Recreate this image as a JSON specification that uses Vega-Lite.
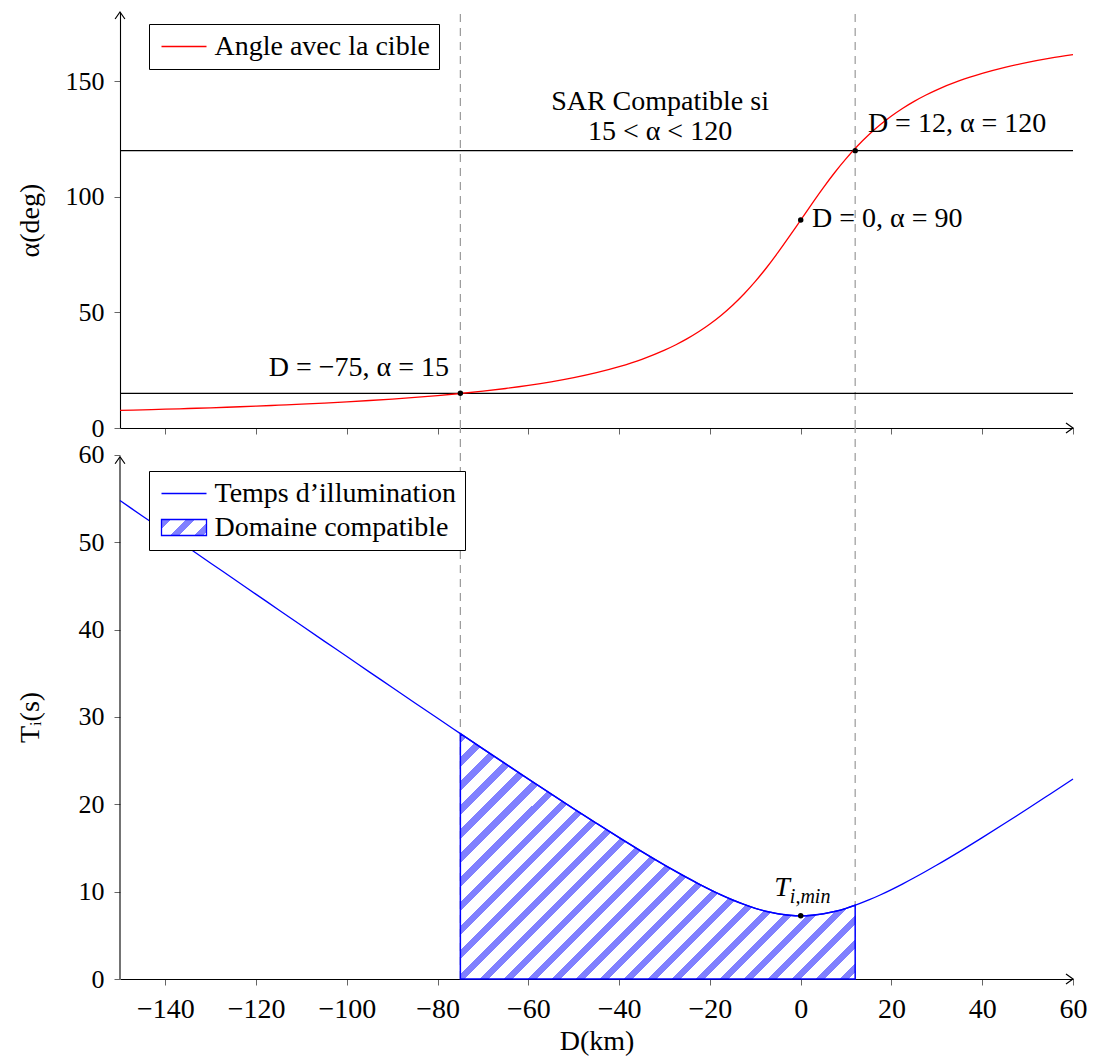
{
  "$schema": "https://vega.github.io/schema/vega-lite/v6.json",
  "padding": {"left": 16, "top": 9, "right": 10, "bottom": 2},
  "bounds": "flush",
  "spacing": 0,
  "resolve": {"scale": {"stroke": "independent"}, "legend": {"stroke": "independent"}},
  "config": {
    "view": {"stroke": null},
    "font": "Liberation Serif",
    "axis": {
      "labelFont": "Liberation Serif", "labelFontSize": 28, "labelColor": "black",
      "titleFont": "Liberation Serif", "titleFontSize": 28, "titleFontWeight": "normal", "titleColor": "black",
      "grid": false, "domainColor": "black", "domainWidth": 1.1, "tickColor": "#666", "tickSize": 6, "labelPadding": 10,
      "labelFlush": false, "labelOverlap": false
    },
    "axisY": {"labelFontSize": 26},
    "text": {"font": "Liberation Serif", "fontSize": 28, "color": "black"},
    "legend": {
      "orient": "none", "title": null, "strokeColor": "black", "fillColor": "white", "padding": 8.5,
      "labelFont": "Liberation Serif", "labelFontSize": 28, "labelColor": "black", "labelOffset": 29, "labelLimit": 600,
      "symbolSize": 400, "symbolStrokeWidth": 1.3, "symbolType": "M-1,0H3.5", "rowPadding": 6, "cornerRadius": 0
    }
  },
  "vconcat": [
    {
      "width": 953,
      "height": 416,
      "encoding": {
        "x": {"field": "D", "type": "quantitative", "scale": {"domain": [-150, 60], "nice": false, "zero": false},
              "axis": {"values": [-140, -120, -100, -80, -60, -40, -20, 0, 20, 40, 60], "labels": false, "title": null}},
        "y": {"field": "alpha", "type": "quantitative", "scale": {"domain": [0, 180], "nice": false},
              "axis": {"values": [0, 50, 100, 150], "title": "α(deg)", "titleX": -90, "titleBaseline": "middle", "titleAlign": "center"}}
      },
      "layer": [
        {
          "data": {"values": [{"D": -75, "alpha": 0, "alpha2": 180}, {"D": 12, "alpha": 0, "alpha2": 180}]},
          "mark": {"type": "rule", "color": "#999", "strokeWidth": 1.2, "strokeDash": [8, 6]},
          "encoding": {"y2": {"field": "alpha2"}}
        },
        {
          "data": {"values": [{"D": -150, "D2": 60, "alpha": 15}, {"D": -150, "D2": 60, "alpha": 120}]},
          "mark": {"type": "rule", "color": "black", "strokeWidth": 1.2},
          "encoding": {"x2": {"field": "D2"}}
        },
        {
          "data": {"values": [
            {"D": -150, "alpha": 7.59}, {"D": -145, "alpha": 7.85}, {"D": -140, "alpha": 8.13}, {"D": -135, "alpha": 8.43},
            {"D": -130, "alpha": 8.75}, {"D": -125, "alpha": 9.09}, {"D": -120, "alpha": 9.46}, {"D": -115, "alpha": 9.87},
            {"D": -110, "alpha": 10.30}, {"D": -105, "alpha": 10.78}, {"D": -100, "alpha": 11.31}, {"D": -95, "alpha": 11.89},
            {"D": -90, "alpha": 12.53}, {"D": -85, "alpha": 13.24}, {"D": -80, "alpha": 14.04}, {"D": -75, "alpha": 14.93},
            {"D": -70, "alpha": 15.95}, {"D": -65, "alpha": 17.10}, {"D": -60, "alpha": 18.43}, {"D": -55, "alpha": 19.98},
            {"D": -50, "alpha": 21.80}, {"D": -45, "alpha": 23.96}, {"D": -40, "alpha": 26.57}, {"D": -35, "alpha": 29.74},
            {"D": -30, "alpha": 33.69}, {"D": -27.5, "alpha": 36.03}, {"D": -25, "alpha": 38.66}, {"D": -22.5, "alpha": 41.63},
            {"D": -20, "alpha": 45.0}, {"D": -17.5, "alpha": 48.81}, {"D": -15, "alpha": 53.13}, {"D": -12.5, "alpha": 57.99},
            {"D": -10, "alpha": 63.43}, {"D": -7.5, "alpha": 69.44}, {"D": -5, "alpha": 75.96}, {"D": -2.5, "alpha": 82.87},
            {"D": 0, "alpha": 90.0}, {"D": 2.5, "alpha": 97.13}, {"D": 5, "alpha": 104.04}, {"D": 7.5, "alpha": 110.56},
            {"D": 10, "alpha": 116.57}, {"D": 12.5, "alpha": 122.01}, {"D": 15, "alpha": 126.87}, {"D": 17.5, "alpha": 131.19},
            {"D": 20, "alpha": 135.0}, {"D": 22.5, "alpha": 138.37}, {"D": 25, "alpha": 141.34}, {"D": 27.5, "alpha": 143.97},
            {"D": 30, "alpha": 146.31}, {"D": 35, "alpha": 150.26}, {"D": 40, "alpha": 153.43}, {"D": 45, "alpha": 156.04},
            {"D": 50, "alpha": 158.20}, {"D": 55, "alpha": 160.02}, {"D": 60, "alpha": 161.57}
          ]},
          "mark": {"type": "line", "strokeWidth": 1.3, "interpolate": "monotone"},
          "encoding": {
            "stroke": {"datum": "Angle avec la cible", "type": "nominal",
                       "scale": {"domain": ["Angle avec la cible"], "range": ["#ff0000"]},
                       "legend": {"legendX": 29, "legendY": 12,
                         "encode": {"symbols": {"update": {"shape": {"value": "M-1,0H3.5"}, "fill": {"value": "transparent"}, "strokeWidth": {"value": 1.3}}}}}}
          }
        },
        {
          "data": {"values": [{"D": -75, "alpha": 15}, {"D": 0, "alpha": 90}, {"D": 12, "alpha": 120}]},
          "mark": {"type": "point", "filled": true, "color": "black", "size": 30, "opacity": 1}
        },
        {
          "data": {"values": [{"D": -31, "alpha": 141, "label": "SAR Compatible si"}, {"D": -31, "alpha": 128, "label": "15 < α < 120"}]},
          "mark": {"type": "text", "align": "center", "baseline": "middle"},
          "encoding": {"text": {"field": "label", "type": "nominal"}}
        },
        {
          "data": {"values": [{"D": 14.8, "alpha": 131.5, "label": "D = 12, α = 120"}, {"D": 2.5, "alpha": 90.5, "label": "D = 0, α = 90"}]},
          "mark": {"type": "text", "align": "left", "baseline": "middle"},
          "encoding": {"text": {"field": "label", "type": "nominal"}}
        },
        {
          "data": {"values": [{"D": -77.5, "alpha": 26, "label": "D = −75, α = 15"}]},
          "mark": {"type": "text", "align": "right", "baseline": "middle"},
          "encoding": {"text": {"field": "label", "type": "nominal"}}
        },
        {
          "data": {"values": [{"D": 60, "alpha": 0}]},
          "mark": {"type": "point", "shape": "M-1,-0.7L0,0L-1,0.7", "size": 196, "stroke": "black", "strokeWidth": 1.2, "fill": null, "filled": false, "opacity": 1}
        },
        {
          "data": {"values": [{"D": -150, "alpha": 180}]},
          "mark": {"type": "point", "shape": "M-0.7,1L0,0L0.7,1", "size": 196, "stroke": "black", "strokeWidth": 1.2, "fill": null, "filled": false, "opacity": 1}
        }
      ]
    },
    {
      "width": 953,
      "height": 551,
      "encoding": {
        "x": {"field": "D", "type": "quantitative", "scale": {"domain": [-150, 60], "nice": false, "zero": false},
              "axis": {"values": [-140, -120, -100, -80, -60, -40, -20, 0, 20, 40, 60], "title": "D(km)", "titlePadding": 4}},
        "y": {"field": "T", "type": "quantitative", "scale": {"domain": [0, 63.09], "nice": false},
              "axis": {"values": [0, 10, 20, 30, 40, 50, 60], "domain": false, "title": "Tᵢ(s)", "titleX": -90, "titleY": 289, "titleBaseline": "middle", "titleAlign": "center"}}
      },
      "layer": [
        {
          "data": {"values": [{"D": -75, "T": 0, "T2": 63.09}, {"D": 12, "T": 0, "T2": 63.09}]},
          "mark": {"type": "rule", "color": "#999", "strokeWidth": 1.2, "strokeDash": [8, 6]},
          "encoding": {"y2": {"field": "T2"}}
        },
        {
          "data": {"values": [{"D": -150, "T": 0, "T2": 59.8}]},
          "mark": {"type": "rule", "color": "black", "strokeWidth": 1.1},
          "encoding": {"y2": {"field": "T2"}}
        },
        {
          "data": {"values": [
            {"D": -75, "T": 28.10}, {"D": -70, "T": 26.35}, {"D": -65, "T": 24.62}, {"D": -60, "T": 22.90},
            {"D": -55, "T": 21.19}, {"D": -50, "T": 19.49}, {"D": -45, "T": 17.83}, {"D": -40, "T": 16.19},
            {"D": -35, "T": 14.59}, {"D": -30, "T": 13.05}, {"D": -27.5, "T": 12.31}, {"D": -25, "T": 11.59},
            {"D": -22.5, "T": 10.90}, {"D": -20, "T": 10.24}, {"D": -17.5, "T": 9.62}, {"D": -15, "T": 9.05},
            {"D": -12.5, "T": 8.54}, {"D": -10, "T": 8.09}, {"D": -7.5, "T": 7.73}, {"D": -5, "T": 7.46},
            {"D": -2.5, "T": 7.30}, {"D": 0, "T": 7.24}, {"D": 2.5, "T": 7.30}, {"D": 5, "T": 7.46},
            {"D": 7.5, "T": 7.73}, {"D": 10, "T": 8.09}, {"D": 12, "T": 8.44}
          ]},
          "mark": {
            "type": "area", "interpolate": "monotone", "strokeWidth": 1.5, "fillOpacity": 1,
            "fill": {"gradient": "linear", "x1": 0, "y1": 0, "x2": 1.1697, "y2": 0.7271, "stops": [
              {"offset": 0, "color": "#8080ff"}, {"offset": 0.015, "color": "#8080ff"}, {"offset": 0.015, "color": "#ffffff"}, {"offset": 0.0375, "color": "#ffffff"},
              {"offset": 0.0375, "color": "#8080ff"}, {"offset": 0.0525, "color": "#8080ff"}, {"offset": 0.0525, "color": "#ffffff"}, {"offset": 0.075, "color": "#ffffff"},
              {"offset": 0.075, "color": "#8080ff"}, {"offset": 0.09, "color": "#8080ff"}, {"offset": 0.09, "color": "#ffffff"}, {"offset": 0.1125, "color": "#ffffff"},
              {"offset": 0.1125, "color": "#8080ff"}, {"offset": 0.1275, "color": "#8080ff"}, {"offset": 0.1275, "color": "#ffffff"}, {"offset": 0.15, "color": "#ffffff"},
              {"offset": 0.15, "color": "#8080ff"}, {"offset": 0.165, "color": "#8080ff"}, {"offset": 0.165, "color": "#ffffff"}, {"offset": 0.1875, "color": "#ffffff"},
              {"offset": 0.1875, "color": "#8080ff"}, {"offset": 0.2025, "color": "#8080ff"}, {"offset": 0.2025, "color": "#ffffff"}, {"offset": 0.225, "color": "#ffffff"},
              {"offset": 0.225, "color": "#8080ff"}, {"offset": 0.24, "color": "#8080ff"}, {"offset": 0.24, "color": "#ffffff"}, {"offset": 0.2625, "color": "#ffffff"},
              {"offset": 0.2625, "color": "#8080ff"}, {"offset": 0.2775, "color": "#8080ff"}, {"offset": 0.2775, "color": "#ffffff"}, {"offset": 0.3, "color": "#ffffff"},
              {"offset": 0.3, "color": "#8080ff"}, {"offset": 0.315, "color": "#8080ff"}, {"offset": 0.315, "color": "#ffffff"}, {"offset": 0.3375, "color": "#ffffff"},
              {"offset": 0.3375, "color": "#8080ff"}, {"offset": 0.3525, "color": "#8080ff"}, {"offset": 0.3525, "color": "#ffffff"}, {"offset": 0.375, "color": "#ffffff"},
              {"offset": 0.375, "color": "#8080ff"}, {"offset": 0.39, "color": "#8080ff"}, {"offset": 0.39, "color": "#ffffff"}, {"offset": 0.4125, "color": "#ffffff"},
              {"offset": 0.4125, "color": "#8080ff"}, {"offset": 0.4275, "color": "#8080ff"}, {"offset": 0.4275, "color": "#ffffff"}, {"offset": 0.45, "color": "#ffffff"},
              {"offset": 0.45, "color": "#8080ff"}, {"offset": 0.465, "color": "#8080ff"}, {"offset": 0.465, "color": "#ffffff"}, {"offset": 0.4875, "color": "#ffffff"},
              {"offset": 0.4875, "color": "#8080ff"}, {"offset": 0.5025, "color": "#8080ff"}, {"offset": 0.5025, "color": "#ffffff"}, {"offset": 0.525, "color": "#ffffff"},
              {"offset": 0.525, "color": "#8080ff"}, {"offset": 0.54, "color": "#8080ff"}, {"offset": 0.54, "color": "#ffffff"}, {"offset": 0.5625, "color": "#ffffff"},
              {"offset": 0.5625, "color": "#8080ff"}, {"offset": 0.5775, "color": "#8080ff"}, {"offset": 0.5775, "color": "#ffffff"}, {"offset": 0.6, "color": "#ffffff"},
              {"offset": 0.6, "color": "#8080ff"}, {"offset": 0.615, "color": "#8080ff"}, {"offset": 0.615, "color": "#ffffff"}, {"offset": 0.6375, "color": "#ffffff"},
              {"offset": 0.6375, "color": "#8080ff"}, {"offset": 0.6525, "color": "#8080ff"}, {"offset": 0.6525, "color": "#ffffff"}, {"offset": 0.675, "color": "#ffffff"},
              {"offset": 0.675, "color": "#8080ff"}, {"offset": 0.69, "color": "#8080ff"}, {"offset": 0.69, "color": "#ffffff"}, {"offset": 0.7125, "color": "#ffffff"},
              {"offset": 0.7125, "color": "#8080ff"}, {"offset": 0.7275, "color": "#8080ff"}, {"offset": 0.7275, "color": "#ffffff"}, {"offset": 0.75, "color": "#ffffff"},
              {"offset": 0.75, "color": "#8080ff"}, {"offset": 0.765, "color": "#8080ff"}, {"offset": 0.765, "color": "#ffffff"}, {"offset": 0.7875, "color": "#ffffff"},
              {"offset": 0.7875, "color": "#8080ff"}, {"offset": 0.8025, "color": "#8080ff"}, {"offset": 0.8025, "color": "#ffffff"}, {"offset": 0.825, "color": "#ffffff"},
              {"offset": 0.825, "color": "#8080ff"}, {"offset": 0.84, "color": "#8080ff"}, {"offset": 0.84, "color": "#ffffff"}, {"offset": 0.8625, "color": "#ffffff"},
              {"offset": 0.8625, "color": "#8080ff"}, {"offset": 0.8775, "color": "#8080ff"}, {"offset": 0.8775, "color": "#ffffff"}, {"offset": 0.9, "color": "#ffffff"},
              {"offset": 0.9, "color": "#8080ff"}, {"offset": 0.915, "color": "#8080ff"}, {"offset": 0.915, "color": "#ffffff"}, {"offset": 0.9375, "color": "#ffffff"},
              {"offset": 0.9375, "color": "#8080ff"}, {"offset": 0.9525, "color": "#8080ff"}, {"offset": 0.9525, "color": "#ffffff"}, {"offset": 0.975, "color": "#ffffff"},
              {"offset": 0.975, "color": "#8080ff"}, {"offset": 0.99, "color": "#8080ff"}, {"offset": 0.99, "color": "#ffffff"}, {"offset": 1, "color": "#ffffff"}
            ]}
          },
          "encoding": {
            "stroke": {"datum": "Domaine compatible", "type": "nominal"}
          }
        },
        {
          "data": {"values": [
            {"D": -150, "T": 54.78}, {"D": -145, "T": 52.99}, {"D": -140, "T": 51.20}, {"D": -135, "T": 49.40},
            {"D": -130, "T": 47.61}, {"D": -125, "T": 45.83}, {"D": -120, "T": 44.04}, {"D": -115, "T": 42.26},
            {"D": -110, "T": 40.47}, {"D": -105, "T": 38.69}, {"D": -100, "T": 36.92}, {"D": -95, "T": 35.14},
            {"D": -90, "T": 33.38}, {"D": -85, "T": 31.61}, {"D": -80, "T": 29.85}, {"D": -75, "T": 28.10},
            {"D": -70, "T": 26.35}, {"D": -65, "T": 24.62}, {"D": -60, "T": 22.90}, {"D": -55, "T": 21.19},
            {"D": -50, "T": 19.49}, {"D": -45, "T": 17.83}, {"D": -40, "T": 16.19}, {"D": -35, "T": 14.59},
            {"D": -30, "T": 13.05}, {"D": -27.5, "T": 12.31}, {"D": -25, "T": 11.59}, {"D": -22.5, "T": 10.90},
            {"D": -20, "T": 10.24}, {"D": -17.5, "T": 9.62}, {"D": -15, "T": 9.05}, {"D": -12.5, "T": 8.54},
            {"D": -10, "T": 8.09}, {"D": -7.5, "T": 7.73}, {"D": -5, "T": 7.46}, {"D": -2.5, "T": 7.30},
            {"D": 0, "T": 7.24}, {"D": 2.5, "T": 7.30}, {"D": 5, "T": 7.46}, {"D": 7.5, "T": 7.73},
            {"D": 10, "T": 8.09}, {"D": 12.5, "T": 8.54}, {"D": 15, "T": 9.05}, {"D": 17.5, "T": 9.62},
            {"D": 20, "T": 10.24}, {"D": 22.5, "T": 10.90}, {"D": 25, "T": 11.59}, {"D": 27.5, "T": 12.31},
            {"D": 30, "T": 13.05}, {"D": 35, "T": 14.59}, {"D": 40, "T": 16.19}, {"D": 45, "T": 17.83},
            {"D": 50, "T": 19.49}, {"D": 55, "T": 21.19}, {"D": 60, "T": 22.90}
          ]},
          "mark": {"type": "line", "strokeWidth": 1.3, "interpolate": "monotone"},
          "encoding": {
            "stroke": {"datum": "Temps d’illumination", "type": "nominal",
                       "scale": {"domain": ["Temps d’illumination", "Domaine compatible"], "range": ["#0000ff", "#0000ff"]},
                       "legend": {"legendX": 29, "legendY": 43,
                         "encode": {"symbols": {"update": {
                           "shape": [{"test": "datum.value === 'Domaine compatible'", "value": "M-1,-0.8H3.5V0.8H-1Z"}, {"value": "M-1,0H3.5"}],
                           "fill": [{"test": "datum.value === 'Domaine compatible'", "value": {"gradient": "linear", "x1": 0, "y1": 0, "x2": 1.2034, "y2": 0.4279, "stops": [
                             {"offset": 0, "color": "#8080ff"}, {"offset": 0.16, "color": "#8080ff"}, {"offset": 0.16, "color": "#ffffff"}, {"offset": 0.395, "color": "#ffffff"},
                             {"offset": 0.395, "color": "#8080ff"}, {"offset": 0.555, "color": "#8080ff"}, {"offset": 0.555, "color": "#ffffff"}, {"offset": 0.79, "color": "#ffffff"},
                             {"offset": 0.79, "color": "#8080ff"}, {"offset": 0.95, "color": "#8080ff"}, {"offset": 0.95, "color": "#ffffff"}, {"offset": 1, "color": "#ffffff"}
                           ]}}, {"value": "transparent"}],
                           "fillOpacity": {"value": 1},
                           "strokeWidth": {"value": 1.3}
                         }}}}}
          }
        },
        {
          "data": {"values": [{"D": 0, "T": 7.24}]},
          "mark": {"type": "point", "filled": true, "color": "black", "size": 30, "opacity": 1}
        },
        {
          "data": {"values": [{"D": -2.4, "T": 10.4, "label": "T"}]},
          "mark": {"type": "text", "align": "right", "baseline": "middle", "fontStyle": "italic"},
          "encoding": {"text": {"field": "label", "type": "nominal"}}
        },
        {
          "data": {"values": [{"D": -2.4, "T": 9.4, "label": "i,min"}]},
          "mark": {"type": "text", "align": "left", "baseline": "middle", "fontStyle": "italic", "fontSize": 20},
          "encoding": {"text": {"field": "label", "type": "nominal"}}
        },
        {
          "data": {"values": [{"D": 60, "T": 0}]},
          "mark": {"type": "point", "shape": "M-1,-0.7L0,0L-1,0.7", "size": 196, "stroke": "black", "strokeWidth": 1.2, "fill": null, "filled": false, "opacity": 1}
        },
        {
          "data": {"values": [{"D": -150, "T": 59.8}]},
          "mark": {"type": "point", "shape": "M-0.7,1L0,0L0.7,1", "size": 196, "stroke": "black", "strokeWidth": 1.2, "fill": null, "filled": false, "opacity": 1}
        }
      ]
    }
  ]
}
